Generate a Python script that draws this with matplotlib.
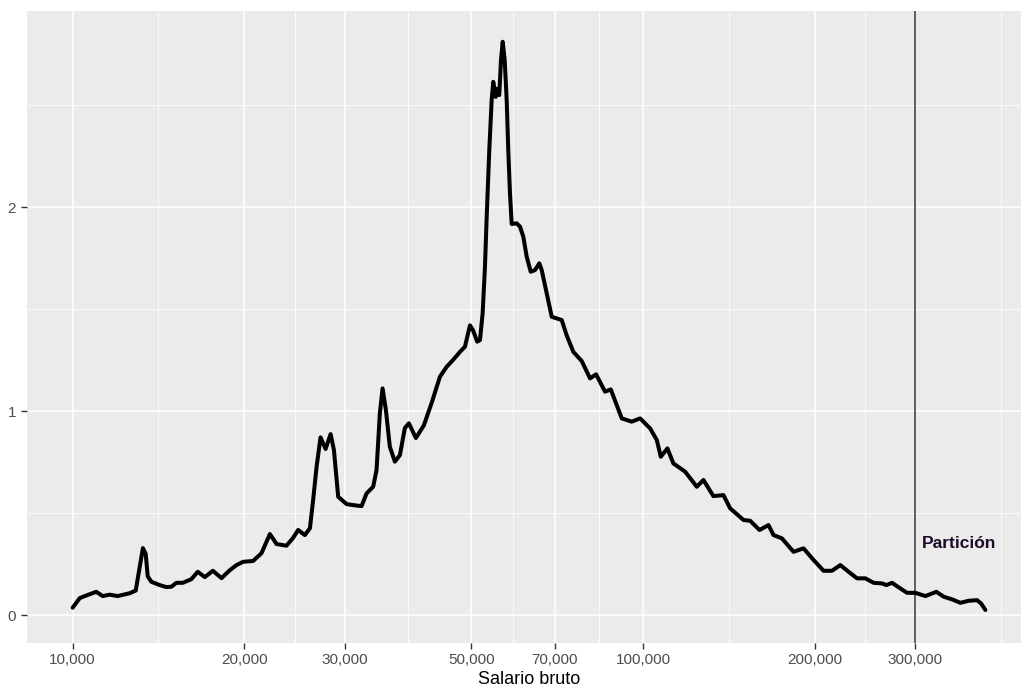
import matplotlib
matplotlib.use("Agg")
import matplotlib.pyplot as plt
from matplotlib.ticker import NullFormatter
import numpy as np

plt.rcParams['font.family'] = ['Liberation Sans', 'DejaVu Sans']

# Density curve (salary on a log axis)
salario = [10000, 10290, 10500, 11000, 11290, 11610, 11990, 12590, 12900, 13110,
           13280, 13430, 13540, 13740, 14210, 14600, 14900, 15200, 15600, 16150,
           16570, 17050, 17610, 18240, 18860, 19380, 19900, 20720, 21430, 22170,
           22780, 23710, 24330, 24850, 25530, 26060, 26400, 26770, 27200, 27760,
           28330, 28710, 29210, 30210, 31030, 32100, 32750, 33640, 34100, 34560,
           34940, 35410, 35980, 36720, 37470, 38230, 38850, 39970, 41280, 42640,
           44040, 45250, 46420, 47750, 48720, 49720, 50320, 51200, 51770, 52330,
           52820, 53190, 53750, 54270, 54620, 55160, 55510, 55960, 56350, 56740,
           57200, 57660, 58030, 58430, 58840, 60040, 60840, 61660, 62510, 63530,
           64650, 65780, 66420, 67770, 69160, 70570, 72010, 73480, 75470, 78070,
           80730, 82710, 85770, 87770, 89920, 91750, 95530, 98800, 102870, 105690,
           107410, 110310, 113010, 118480, 124200, 127560, 132820, 138290, 142120, 149960,
           154070, 159970, 165890, 169280, 175120, 183520, 191090, 198960, 207200, 214350,
           221670, 229230, 237140, 245240, 253600, 262350, 266950, 273160, 280540, 290200,
           300090, 312470, 326640, 336360, 347970, 359840, 372120, 384960, 391230, 398110]
densidad = [0.036, 0.083, 0.093, 0.114, 0.093, 0.100, 0.093, 0.107, 0.120, 0.235,
            0.328, 0.300, 0.190, 0.163, 0.147, 0.137, 0.139, 0.158, 0.158, 0.176,
            0.212, 0.186, 0.217, 0.181, 0.220, 0.245, 0.261, 0.265, 0.303, 0.397,
            0.348, 0.340, 0.377, 0.417, 0.392, 0.426, 0.564, 0.727, 0.871, 0.814,
            0.887, 0.809, 0.580, 0.544, 0.539, 0.534, 0.596, 0.629, 0.711, 0.990,
            1.111, 1.005, 0.825, 0.752, 0.784, 0.917, 0.940, 0.868, 0.930, 1.044,
            1.168, 1.217, 1.250, 1.290, 1.315, 1.420, 1.397, 1.340, 1.348, 1.480,
            1.707, 1.952, 2.279, 2.525, 2.614, 2.540, 2.580, 2.549, 2.720, 2.810,
            2.720, 2.525, 2.279, 2.068, 1.917, 1.920, 1.904, 1.855, 1.757, 1.683,
            1.691, 1.724, 1.691, 1.577, 1.462, 1.454, 1.446, 1.370, 1.290, 1.245,
            1.160, 1.180, 1.095, 1.106, 1.029, 0.964, 0.948, 0.964, 0.915, 0.858,
            0.776, 0.817, 0.743, 0.703, 0.629, 0.662, 0.583, 0.588, 0.523, 0.466,
            0.462, 0.417, 0.441, 0.392, 0.376, 0.310, 0.327, 0.270, 0.217, 0.217,
            0.245, 0.212, 0.180, 0.180, 0.158, 0.155, 0.147, 0.158, 0.136, 0.109,
            0.109, 0.093, 0.114, 0.090, 0.077, 0.060, 0.070, 0.073, 0.057, 0.025]

x_breaks = [10000, 20000, 30000, 50000, 70000, 100000, 200000, 300000]
x_labels = ["10,000", "20,000", "30,000", "50,000", "70,000", "100,000", "200,000", "300,000"]
x_breaks_ext = x_breaks + [600000]   # used only for the minor grid positions
y_breaks = [0, 1, 2]
y_minor = [0.5, 1.5, 2.5]

particion = 300000
etiqueta = "Partición"

fig = plt.figure(figsize=(10.21, 6.93), dpi=100)
# panel runs a little past the right edge, like the cropped original
ax = fig.add_axes([27 / 1021, 50 / 693, 1004 / 1021, 632 / 693])
ax.set_facecolor('#EBEBEB')
for s in ax.spines.values():
    s.set_visible(False)

ax.set_xscale('log')
ax.set_xlim(8318, 478600)
ax.set_ylim(-0.137, 2.961)

# ticks and grid (ggplot look)
ax.set_xticks(x_breaks)
ax.set_xticklabels(x_labels)
minor_x = [np.sqrt(a * b) for a, b in zip(x_breaks_ext[:-1], x_breaks_ext[1:])]
ax.set_xticks(minor_x, minor=True)
ax.xaxis.set_minor_formatter(NullFormatter())
ax.set_yticks(y_breaks)
ax.set_yticklabels([str(v) for v in y_breaks])
ax.set_yticks(y_minor, minor=True)

ax.tick_params(which='major', length=4, width=1, color='#333333',
               labelcolor='#4d4d4d', labelsize=11)
ax.tick_params(axis='x', which='major', pad=3)
ax.tick_params(axis='y', which='major', pad=4)
ax.tick_params(which='minor', length=0)

ax.grid(which='major', color='white', linewidth=1.1)
ax.grid(which='minor', color='white', linewidth=0.55)
ax.set_axisbelow(True)

# density line
ax.plot(salario, densidad, color='black', linewidth=2.9, solid_joinstyle='round',
        solid_capstyle='round', zorder=3)

# partition line and label
ax.axvline(particion, color='#333333', linewidth=1.1, zorder=2)
ax.text(308000, 0.35, etiqueta, fontsize=12.5, fontweight='bold', color='#1e0a2a',
        ha='left', va='center', zorder=4)

ax.set_xlabel("Salario bruto", fontsize=13, color='black', labelpad=3)

fig.savefig("out.png", dpi=100)
